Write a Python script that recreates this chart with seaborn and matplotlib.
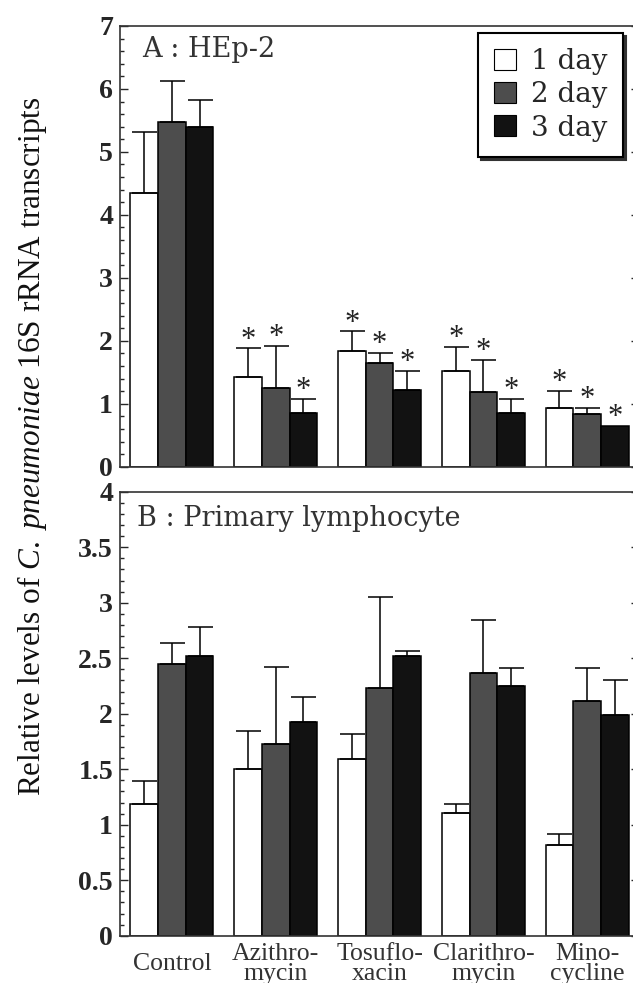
# Relative levels of C. pneumoniae 16S rRNA transcripts, two panels
import pandas as pd
import seaborn as sns
import matplotlib.pyplot as plt
import matplotlib.ticker as ticker
from matplotlib.patches import Patch

# Data
drugs = ["Control", "Azithro-\nmycin", "Tosuflo-\nxacin", "Clarithro-\nmycin", "Mino-\ncycline"]
days = ["1 day", "2 day", "3 day"]
day_colors = ["white", "#4d4d4d", "#121212"]

# Panel A : HEp-2 (bar heights and upper error)
hep2_day1 = [4.35, 1.42, 1.84, 1.52, 0.93]
hep2_day2 = [5.48, 1.25, 1.64, 1.18, 0.83]
hep2_day3 = [5.40, 0.85, 1.22, 0.86, 0.645]
hep2_err1 = [0.97, 0.46, 0.31, 0.38, 0.27]
hep2_err2 = [0.64, 0.67, 0.17, 0.52, 0.11]
hep2_err3 = [0.42, 0.23, 0.30, 0.22, 0.0]
hep2_star = [False, True, True, True, True]

# Panel B : Primary lymphocyte
lym_day1 = [1.19, 1.50, 1.59, 1.11, 0.82]
lym_day2 = [2.445, 1.73, 2.23, 2.37, 2.11]
lym_day3 = [2.52, 1.925, 2.52, 2.25, 1.985]
lym_err1 = [0.20, 0.34, 0.23, 0.08, 0.10]
lym_err2 = [0.195, 0.69, 0.82, 0.47, 0.305]
lym_err3 = [0.26, 0.225, 0.045, 0.165, 0.315]
lym_star = [False, False, False, False, False]


def to_long(day1, day2, day3):
    """Long-form table for seaborn"""
    rows = []
    for vals, day in zip([day1, day2, day3], days):
        for drug, v in zip(drugs, vals):
            rows.append({"drug": drug, "day": day, "value": v})
    return pd.DataFrame(rows)


def draw_panel(ax, df, errs, stars, ymax, major, minor, title):
    sns.barplot(
        data=df, x="drug", y="value", hue="day",
        order=drugs, hue_order=days,
        palette=dict(zip(days, day_colors)),
        edgecolor="black", linewidth=1.1,
        errorbar=None, width=0.8, legend=False, ax=ax
    )

    # One-sided error bars and asterisks on top of each bar
    for container, err_list in zip(ax.containers, errs):
        for bar, e, star in zip(container, err_list, stars):
            x = bar.get_x() + bar.get_width() / 2
            h = bar.get_height()
            if e > 0:
                ax.errorbar(x, h, yerr=[[0], [e]], color="black",
                            lw=1.1, capsize=9, capthick=1.1)
            if star:
                ax.annotate("*", (x, h + e), xytext=(0, 0.5), textcoords="offset points",
                            ha="center", va="baseline", fontsize=22,
                            family="Liberation Serif", color="#222222")

    ax.set_xlim(-0.5, 4.5)
    ax.set_ylim(0, ymax)
    ax.yaxis.set_major_locator(ticker.MultipleLocator(major))
    ax.yaxis.set_minor_locator(ticker.MultipleLocator(minor))
    ax.yaxis.set_major_formatter(ticker.FormatStrFormatter("%g"))
    ax.tick_params(axis="y", which="both", direction="in", left=True, right=True, pad=5,
                   labelsize=20, width=1.0)
    ax.tick_params(axis="y", which="major", length=6)
    ax.tick_params(axis="y", which="minor", length=3)
    for lab in ax.get_yticklabels():
        lab.set_family("Liberation Serif")
        lab.set_fontweight("bold")
    ax.set_xlabel("")
    ax.set_ylabel("")
    for side in ax.spines.values():
        side.set_visible(True)
        side.set_linewidth(1.2)
        side.set_color("#333333")
    ax.text(title[1], title[2], title[0], transform=ax.transAxes,
            ha="left", va="baseline", fontsize=19.5, family="DejaVu Serif", color="#333333")


sns.set_style("ticks")
plt.rcParams["font.family"] = ["DejaVu Serif"]
plt.rcParams["mathtext.fontset"] = "custom"
plt.rcParams["mathtext.rm"] = "Liberation Serif"
plt.rcParams["mathtext.it"] = "Liberation Serif:italic"

fig = plt.figure(figsize=(6.33, 9.83), dpi=100)
ax_top = fig.add_axes([0.1896, 0.5252, 0.82, 0.4484])
ax_bot = fig.add_axes([0.1896, 0.0481, 0.82, 0.4517])

draw_panel(ax_top, to_long(hep2_day1, hep2_day2, hep2_day3),
           [hep2_err1, hep2_err2, hep2_err3], hep2_star,
           7, 1, 0.2, ("A : HEp-2", 0.042, 0.930))
draw_panel(ax_bot, to_long(lym_day1, lym_day2, lym_day3),
           [lym_err1, lym_err2, lym_err3], lym_star,
           4, 0.5, 0.1, ("B : Primary lymphocyte", 0.033, 0.923))

# x labels only on the lower panel
ax_top.tick_params(axis="x", bottom=False, labelbottom=False)
ax_bot.tick_params(axis="x", bottom=False, pad=17)
for lab in ax_bot.get_xticklabels():
    lab.set_va("center")
    lab.set_family("Liberation Serif")
    lab.set_fontsize(18.5)
    lab.set_linespacing(0.85)
    lab.set_color("#333333")

# Legend with drop shadow
handles = [Patch(facecolor=c, edgecolor="black", linewidth=0.8) for c in day_colors]
leg = ax_top.legend(
    handles, days, loc="upper right", bbox_to_anchor=(0.969, 0.984),
    borderaxespad=0, fancybox=False, framealpha=1, edgecolor="black",
    shadow={"color": "#333333", "alpha": 1, "ox": 2, "oy": -2},
    prop={"family": "DejaVu Serif", "size": 20},
    handlelength=0.8, handleheight=0.8, handletextpad=0.55,
    labelspacing=0.22, borderpad=0.55
)
leg.get_frame().set_linewidth(1.5)

# Shared y label
fig.text(32 / 633, 0.546,
         r"Relative levels of $\mathit{C.\ pneumoniae}$ 16S rRNA transcripts",
         rotation=90, ha="center", va="center", fontsize=22.5,
         family="Liberation Serif", color="#111111")

fig.savefig("out.png", dpi=100)
